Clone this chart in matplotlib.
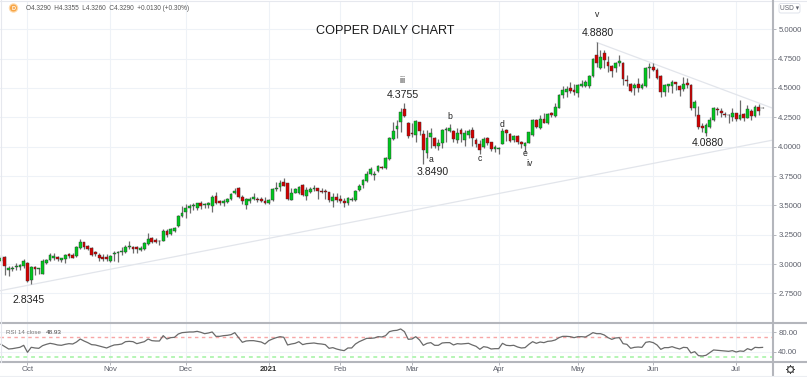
import matplotlib
matplotlib.use("Agg")
import matplotlib.pyplot as plt
import numpy as np
from matplotlib.lines import Line2D
from matplotlib.patches import Circle, FancyBboxPatch

plt.rcParams['font.family'] = ['Liberation Sans', 'DejaVu Sans']

# daily bars
opens = [
    3.029,3.063,2.949,2.958,2.972,2.978,2.984,3.006,2.864,2.978,
    2.958,2.915,3.012,3.035,3.054,3.057,3.035,3.043,3.083,3.077,
    3.069,3.134,3.185,3.157,3.134,3.100,3.077,3.063,3.063,3.029,
    3.083,3.091,3.103,3.103,3.145,3.148,3.148,3.120,3.125,3.171,
    3.219,3.205,3.199,3.199,3.285,3.256,3.285,3.324,3.409,3.441,
    3.480,3.497,3.480,3.523,3.500,3.503,3.495,3.580,3.537,3.517,
    3.532,3.554,3.603,3.645,3.574,3.503,3.537,3.554,3.554,3.554,
    3.540,3.517,3.546,3.640,3.654,3.702,3.688,3.546,3.608,3.603,
    3.674,3.583,3.617,3.637,3.645,3.625,3.625,3.611,3.537,3.568,
    3.551,3.540,3.517,3.546,3.546,3.631,3.671,3.710,3.767,3.759,
    3.796,3.830,3.815,3.892,4.062,4.148,4.213,4.321,4.199,4.114,
    4.099,4.207,4.105,3.949,4.085,4.077,4.009,4.034,4.142,4.136,
    4.136,4.057,4.142,4.057,4.099,4.142,4.057,4.023,3.994,4.077,
    4.037,3.977,3.977,4.023,4.142,4.105,4.057,4.091,4.043,4.009,
    4.034,4.099,4.227,4.157,4.233,4.199,4.284,4.262,4.333,4.441,
    4.469,4.497,4.483,4.460,4.520,4.517,4.517,4.602,4.781,4.668,
    4.801,4.719,4.688,4.668,4.710,4.710,4.568,4.534,4.497,4.531,
    4.503,4.517,4.668,4.676,4.654,4.602,4.463,4.520,4.517,4.549,
    4.517,4.489,4.540,4.526,4.333,4.270,4.176,4.120,4.171,4.228,
    4.318,4.307,4.279,4.273,4.250,4.284,4.233,4.276,4.248,4.307,
    4.265,4.341,4.329]
highs = [
    3.077,3.069,2.984,2.984,3.006,3.001,3.040,3.020,2.984,2.984,
    2.964,3.040,3.040,3.097,3.091,3.069,3.049,3.083,3.091,3.097,
    3.154,3.211,3.191,3.162,3.142,3.111,3.097,3.083,3.083,3.077,
    3.114,3.114,3.148,3.162,3.199,3.154,3.154,3.154,3.191,3.262,
    3.233,3.219,3.205,3.296,3.296,3.310,3.319,3.418,3.495,3.509,
    3.512,3.517,3.523,3.540,3.523,3.532,3.588,3.617,3.546,3.551,
    3.560,3.608,3.645,3.654,3.588,3.560,3.568,3.608,3.574,3.568,
    3.574,3.551,3.645,3.702,3.716,3.730,3.693,3.645,3.645,3.668,
    3.679,3.659,3.654,3.674,3.651,3.645,3.637,3.617,3.603,3.608,
    3.588,3.560,3.568,3.574,3.631,3.679,3.722,3.796,3.824,3.796,
    3.844,3.838,3.915,4.080,4.213,4.227,4.327,4.3755,4.213,4.199,
    4.227,4.213,4.142,4.142,4.156,4.085,4.062,4.148,4.170,4.193,
    4.142,4.156,4.156,4.142,4.148,4.165,4.071,4.057,4.085,4.085,
    4.043,4.014,4.000,4.156,4.148,4.114,4.099,4.099,4.048,4.043,
    4.128,4.236,4.233,4.270,4.284,4.290,4.293,4.375,4.446,4.517,
    4.517,4.549,4.534,4.534,4.568,4.568,4.611,4.753,4.888,4.824,
    4.824,4.773,4.696,4.722,4.781,4.725,4.611,4.540,4.540,4.583,
    4.540,4.682,4.710,4.710,4.668,4.611,4.534,4.534,4.568,4.554,
    4.526,4.591,4.583,4.531,4.398,4.347,4.205,4.199,4.256,4.341,
    4.336,4.327,4.299,4.279,4.327,4.290,4.398,4.284,4.355,4.318,
    4.355,4.364,4.3355]
lows = [
    3.020,2.907,2.901,2.941,2.949,2.949,2.964,2.850,2.8345,2.907,
    2.912,2.912,3.001,3.026,3.035,3.026,3.020,3.012,3.049,3.049,
    3.063,3.125,3.125,3.120,3.072,3.069,3.029,3.029,3.026,3.020,
    3.029,3.018,3.077,3.091,3.125,3.091,3.091,3.114,3.120,3.162,
    3.177,3.177,3.162,3.196,3.228,3.248,3.276,3.319,3.404,3.390,
    3.432,3.461,3.461,3.466,3.475,3.475,3.446,3.512,3.503,3.495,
    3.523,3.546,3.597,3.560,3.512,3.466,3.523,3.546,3.529,3.532,
    3.512,3.512,3.540,3.625,3.625,3.665,3.546,3.546,3.603,3.594,
    3.580,3.546,3.608,3.625,3.551,3.603,3.554,3.532,3.483,3.526,
    3.523,3.489,3.503,3.537,3.540,3.625,3.645,3.702,3.759,3.716,
    3.787,3.807,3.807,3.886,4.057,4.071,4.128,4.256,4.071,4.085,
    4.043,4.099,3.849,3.901,3.986,3.986,3.972,3.986,4.043,4.128,
    4.043,4.028,4.043,4.006,4.071,4.006,4.000,3.938,3.986,4.014,
    3.963,3.957,3.938,4.020,4.051,4.043,4.043,4.023,3.986,3.957,
    4.028,4.094,4.156,4.148,4.199,4.194,4.256,4.256,4.327,4.412,
    4.421,4.460,4.441,4.426,4.506,4.506,4.497,4.591,4.682,4.659,
    4.668,4.639,4.597,4.639,4.688,4.526,4.517,4.463,4.441,4.469,
    4.489,4.506,4.583,4.645,4.574,4.426,4.432,4.469,4.460,4.483,
    4.435,4.478,4.497,4.313,4.262,4.151,4.128,4.088,4.157,4.222,
    4.270,4.256,4.250,4.199,4.222,4.222,4.228,4.222,4.242,4.228,
    4.256,4.270,4.326]
closes = [
    3.054,2.984,2.964,2.966,2.984,2.992,3.026,2.856,2.972,2.961,
    2.964,3.029,3.035,3.077,3.072,3.040,3.049,3.077,3.069,3.054,
    3.142,3.191,3.142,3.125,3.077,3.086,3.054,3.046,3.040,3.069,
    3.091,3.106,3.114,3.148,3.157,3.125,3.125,3.134,3.177,3.214,
    3.191,3.191,3.194,3.285,3.248,3.296,3.310,3.409,3.438,3.480,
    3.497,3.503,3.517,3.495,3.509,3.517,3.574,3.517,3.517,3.537,
    3.551,3.597,3.625,3.574,3.537,3.551,3.554,3.568,3.546,3.537,
    3.517,3.546,3.637,3.645,3.693,3.668,3.551,3.603,3.637,3.659,
    3.588,3.631,3.637,3.645,3.623,3.617,3.617,3.546,3.574,3.546,
    3.537,3.517,3.560,3.551,3.622,3.665,3.716,3.767,3.807,3.767,
    3.835,3.815,3.901,4.071,4.136,4.176,4.298,4.261,4.091,4.105,
    4.222,4.136,3.972,4.071,4.119,4.009,4.028,4.142,4.151,4.156,
    4.065,4.119,4.105,4.114,4.136,4.071,4.023,3.972,4.065,4.028,
    3.977,3.994,3.986,4.133,4.114,4.051,4.091,4.037,4.020,4.028,
    4.122,4.227,4.165,4.236,4.205,4.279,4.270,4.336,4.441,4.483,
    4.495,4.478,4.466,4.526,4.534,4.554,4.602,4.747,4.710,4.762,
    4.739,4.688,4.648,4.710,4.730,4.574,4.563,4.478,4.526,4.503,
    4.526,4.668,4.682,4.654,4.588,4.463,4.526,4.531,4.554,4.531,
    4.483,4.534,4.526,4.333,4.384,4.171,4.157,4.182,4.228,4.333,
    4.310,4.284,4.273,4.267,4.284,4.233,4.270,4.242,4.318,4.262,
    4.341,4.307,4.329]
rsi = [
    55.2,50.4,45.6,46.3,47.7,49.1,53.2,38.8,49.1,47.7,47.0,52.5,55.2,57.3,55.9,53.9,53.2,55.2,
    56.6,55.9,60.0,66.2,62.1,58.7,54.6,53.9,51.8,49.8,47.7,51.1,53.9,54.6,55.9,60.7,61.4,60.7,
    56.6,58.7,60.7,66.2,62.8,62.1,62.1,73.1,66.2,69.0,69.7,76.5,79.3,80.0,80.7,80.7,82.0,80.0,
    77.2,78.6,80.7,71.7,71.7,73.1,73.8,75.2,79.3,69.0,59.4,62.1,62.8,62.8,61.4,60.0,55.9,62.8,
    66.2,69.0,71.0,69.7,53.9,55.9,57.3,60.7,54.6,56.6,57.3,58.0,56.6,55.9,54.6,47.0,48.4,45.6,
    43.6,42.2,47.7,47.7,55.9,60.7,64.2,67.6,67.6,68.3,71.0,70.4,73.1,81.4,83.4,84.1,86.9,81.4,
    65.6,66.2,71.0,64.2,53.2,57.3,58.7,53.2,53.2,58.0,58.7,58.7,53.9,56.6,55.9,56.6,57.3,53.9,
    51.1,45.0,50.4,49.1,45.6,46.3,46.3,57.3,53.2,52.5,53.2,49.8,47.7,48.4,55.2,60.7,57.3,
    60.0,58.7,61.4,62.1,64.2,69.0,71.7,71.7,71.0,69.0,71.0,71.0,70.3,74.5,79.3,77.2,77.2,74.5,
    69.0,65.5,68.3,69.0,56.6,55.2,47.0,49.0,49.7,49.0,59.3,60.7,58.7,53.9,44.9,48.4,48.4,50.4,
    47.7,45.6,49.0,48.4,37.4,40.1,31.9,31.2,32.6,38.1,43.6,42.9,42.2,41.5,40.8,42.2,39.4,41.5,
    40.8,46.3,43.6,49.0,48.4,48.93]

price_ticks = [5.0, 4.75, 4.5, 4.25, 4.0, 3.75, 3.5, 3.25, 3.0, 2.75]
rsi_ticks = [80, 40]
rsi_bands = [70, 30]
month_bars = [7, 29, 49, 71, 90, 109, 132, 153, 173, 195]
month_labels = ["Oct", "Nov", "Dec", "2021", "Feb", "Mar", "Apr", "May", "Jun", "Jul"]

# hand drawn trend lines (bar, price)
support_line = ([-0.3, 204.5], [2.773, 4.055])
resistance_line = ([158, 204.5], [4.888, 4.33])

# wave labels on the chart (text, bar, price)
wave_labels = [
    ("2.8345", 7.4, 2.694, 1), ("4.3755", 106.6, 4.44, 1), ("3.8490", 114.6, 3.785, 1),
    ("4.8880", 158.3, 4.968, 1), ("4.0880", 187.5, 4.03, 1),
    ("iii", 106.4, 4.568, 0), ("a", 114, 3.887, 0), ("b", 119, 4.253, 0), ("c", 127, 3.90, 0),
    ("d", 133, 4.193, 0), ("e", 139, 3.938, 0), ("iv", 140.3, 3.853, 0), ("v", 158, 5.122, 0),
]

W, H = 807, 377
GRID = "#eef2f7"
AXIS = "#b4b6bc"
TXT = "#5d606b"

fig = plt.figure(figsize=(W / 100, H / 100), dpi=100)


def px_axes(left, top, right, bottom):
    return fig.add_axes([left / W, 1 - bottom / H, (right - left) / W, (bottom - top) / H])


ax = px_axes(0, 1, 772, 323)
ax_rsi = px_axes(0, 323, 772, 362)
bars = np.arange(len(opens))
o, h, l, c = map(np.array, (opens, highs, lows, closes))

for a in (ax, ax_rsi):
    a.set_xlim(-0.29, 204.5)
    a.set_xticks(month_bars)
    a.grid(True, color=GRID, lw=0.8)
    a.set_axisbelow(True)
    a.yaxis.tick_right()
    for s in a.spines.values():
        s.set_visible(False)
    a.tick_params(axis="y", length=3, width=0.7, color=AXIS, labelcolor=TXT, labelsize=5.6, pad=1.5)

ax.set_ylim(2.4983, 5.241)
ax.set_yticks(price_ticks)
ax.set_yticklabels([f"{t:.4f}" for t in price_ticks])
ax.tick_params(axis="x", length=0, labelbottom=False)

# candles
up = c >= o
colors = np.where(up, "#00c81e", "#d40000")
ax.vlines(bars, l, h, color="#6c6c6c", lw=0.9, zorder=2)
ax.bar(bars, np.maximum(np.abs(c - o), 0.002), bottom=np.minimum(o, c), width=0.74,
       color=colors, edgecolor="#333333", linewidth=0.3, zorder=3)

ax.plot(*support_line, color="#e2e5eb", lw=0.9, zorder=1)
ax.plot(*resistance_line, color="#e2e5eb", lw=0.9, zorder=1)

for txt, x, y, big in wave_labels:
    ax.text(x, y, txt, ha="center", va="center", color="#222222",
            fontsize=7.6 if big else 6.2)
ax.text(385 / 772, 1 - 30 / 322, "COPPER DAILY CHART", transform=ax.transAxes, ha="center",
        va="center", fontsize=9.1, color="#1a1a1a")

# rsi pane
ax_rsi.set_ylim(18.8, 99.2)
ax_rsi.set_yticks(rsi_ticks)
ax_rsi.set_yticklabels([f"{t:.2f}" for t in rsi_ticks])
ax_rsi.set_xticklabels(month_labels)
ax_rsi.tick_params(axis="x", length=2, width=0.7, color=AXIS, labelcolor=TXT, labelsize=5.6, pad=1)
ax_rsi.get_xticklabels()[3].set_fontweight("bold")
ax_rsi.get_xticklabels()[3].set_color("#333333")
ax_rsi.plot(bars, rsi, color="#6a6a6a", lw=0.9, zorder=3)
ax_rsi.axhline(rsi_bands[0], color="#f7a6a6", lw=1, ls=(0, (2.5, 2.5)), zorder=2)
ax_rsi.axhline(rsi_bands[1], color="#b6f5b6", lw=1.4, ls=(0, (2, 2)), zorder=2)
ax_rsi.text(6 / 772, 0.76, "RSI 14 close", transform=ax_rsi.transAxes, fontsize=4.4, color="#777777", va="center")
ax_rsi.text(46 / 772, 0.76, f"{rsi[-1]:.2f}", transform=ax_rsi.transAxes, fontsize=4.6, color="#444444", va="center")

# pane separators and price scale edge
for y, lw in ((323, 1.5), (362, 1.5), (0.5, 0.8)):
    col = AXIS if y > 1 else "#e6e8ee"
    fig.add_artist(Line2D([0, 1], [1 - y / H] * 2, color=col, lw=lw, transform=fig.transFigure))
fig.add_artist(Line2D([772.5 / W] * 2, [0, 1], color=AXIS, lw=1.5, transform=fig.transFigure))
fig.add_artist(Line2D([0.5 / W] * 2, [1 - 362 / H, 1], color="#e6e8ee", lw=0.8, transform=fig.transFigure))
fig.add_artist(Line2D([0, 1], [1 - 376 / H] * 2, color="#eceef2", lw=0.8, transform=fig.transFigure))

# header
fig.add_artist(Circle((13.5, H - 8), 4, transform=None, color="#ffd8a8"))
fig.add_artist(Circle((13.5, H - 8), 2.8, transform=None, color="#f7a545"))
fig.text(13.5 / W, 1 - 8 / H, "D", fontsize=4, color="white", ha="center", va="center", fontweight="bold")
fig.text(26 / W, 1 - 8.3 / H, "O4.3290  H4.3355  L4.3260  C4.3290  +0.0130 (+0.30%)",
         fontsize=4.7, color="#555555", va="center")

# currency button and settings gear
fig.add_artist(FancyBboxPatch((779, H - 13), 21, 9.5, boxstyle="round,pad=0,rounding_size=2",
                              transform=None, fc="white", ec="#e0e3eb", lw=0.7))
fig.text(789.5 / W, 1 - 8.3 / H, "USD ▾", fontsize=4.8, color=TXT, ha="center", va="center")
fig.add_artist(Line2D([789.5 / W], [1 - 369 / H], marker="o", ms=4.2, mfc="white", mec="#444444",
                      mew=0.9, transform=fig.transFigure))
fig.add_artist(Line2D([789.5 / W], [1 - 369 / H], marker=(8, 2, 0), ms=6, mec="#444444",
                      mew=0.6, transform=fig.transFigure, zorder=1))

fig.savefig("out.png", dpi=100)
